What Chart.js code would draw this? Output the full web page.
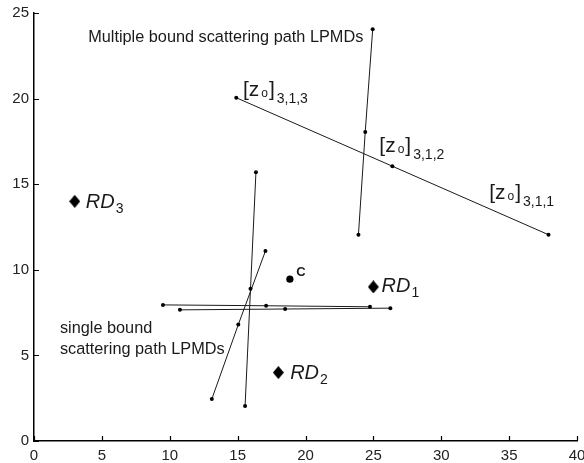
<!DOCTYPE html>
<html>
<head>
<meta charset="utf-8">
<script src="https://cdn.jsdelivr.net/npm/chart.js@4.4.1/dist/chart.umd.min.js"></script>
<style>
    html, body { margin: 0; padding: 0; background: #fff; }
    #wrap { width: 584px; height: 463px; }
</style>
</head>
<body>
<div id="wrap"><canvas id="lpmdChart"></canvas></div>
<script>
// Tick values on both axes
const xTickValues = [0, 5, 10, 15, 20, 25, 30, 35, 40];
const yTickValues = [0, 5, 10, 15, 20, 25];

// Single bound scattering path LPMDs (end, middle, end)
const singleX1 = [15.55, 15.95, 16.35];
const singleY1 = [2.05, 8.9, 15.7];
const singleX2 = [13.1, 15.05, 17.05];
const singleY2 = [2.45, 6.8, 11.1];
const singleX3 = [9.5, 17.1, 24.75];
const singleY3 = [7.95, 7.9, 7.84];
const singleX4 = [10.75, 18.5, 26.25];
const singleY4 = [7.66, 7.71, 7.76];

// Multiple bound scattering path LPMDs
const multiX1 = [23.9, 24.4, 24.95];
const multiY1 = [12.05, 18.05, 24.05];
const multiX2 = [14.9, 26.4, 37.9];
const multiY2 = [20.05, 16.05, 12.05];

// Reference devices and the centre point
const rdNames = ['1', '2', '3'];
const rdX = [25, 18, 3];
const rdY = [9, 4, 14];
const centreX = [18.85];
const centreY = [9.45];

const toPoints = (xs, ys) => xs.map((x, i) => ({ x: x, y: ys[i] }));

const FONT = '"Liberation Sans", Arial, Helvetica, sans-serif';

function makeDiamond(w, h) {
    const c = document.createElement('canvas');
    c.width = w;
    c.height = h;
    const g = c.getContext('2d');
    g.fillStyle = '#000';
    g.beginPath();
    g.moveTo(w / 2, 0);
    g.lineTo(w, h / 2);
    g.lineTo(w / 2, h);
    g.lineTo(0, h / 2);
    g.closePath();
    g.fill();
    return c;
}

function pathDataset(xs, ys) {
    return {
        data: toPoints(xs, ys),
        showLine: true,
        borderColor: '#1a1a1a',
        borderWidth: 1,
        pointRadius: 2,
        pointBorderWidth: 0,
        pointBackgroundColor: '#000'
    };
}

// Text labels: pieces drawn one after another on a shared baseline
const textLabels = [
    { x: 3.99, y: 23.31, pieces: [['Multiple bound scattering path LPMDs', '16.3px', 0]] },
    { x: 1.91, y: 6.31, pieces: [['single bound', '16.3px', 0]] },
    { x: 1.91, y: 5.08, pieces: [['scattering path LPMDs', '16.3px', 0]] },
    { x: 15.39, y: 20.18, pieces: [['[z', '21px', 0], ['o', '12px', 1, 2], [']', '21px', 0, 1], ['3,1,3', '14px', 7, 2]] },
    { x: 25.44, y: 16.88, pieces: [['[z', '21px', 0], ['o', '12px', 1, 2], [']', '21px', 0, 1], ['3,1,2', '14px', 7, 2]] },
    { x: 33.53, y: 14.12, pieces: [['[z', '21px', 0], ['o', '12px', 1, 2], [']', '21px', 0, 1], ['3,1,1', '14px', 7, 2]] },
    { x: 25.6, y: 8.72, pieces: [['RD', 'italic 20px', 0], [rdNames[0], '14px', 5, 1]] },
    { x: 18.87, y: 3.62, pieces: [['RD', 'italic 20px', 0], [rdNames[1], '14px', 5, 1]] },
    { x: 3.82, y: 13.63, pieces: [['RD', 'italic 20px', 0], [rdNames[2], '14px', 5, 1]] },
    { x: 19.32, y: 9.65, pieces: [['C', 'bold 13px', 0]] }
];

const annotationPlugin = {
    id: 'annotations',
    afterDraw(chart) {
        const { ctx, scales: { x, y }, chartArea } = chart;
        ctx.save();
        // inward tick marks
        ctx.strokeStyle = '#000';
        ctx.lineWidth = 1.2;
        ctx.beginPath();
        xTickValues.forEach(v => {
            const px = Math.round(x.getPixelForValue(v)) + 0.5;
            ctx.moveTo(px, chartArea.bottom);
            ctx.lineTo(px, chartArea.bottom - 5);
        });
        yTickValues.forEach(v => {
            const py = Math.round(y.getPixelForValue(v)) + 0.5;
            ctx.moveTo(chartArea.left, py);
            ctx.lineTo(chartArea.left + 5, py);
        });
        ctx.stroke();

        ctx.fillStyle = '#1a1a1a';
        ctx.textBaseline = 'alphabetic';
        ctx.textAlign = 'left';
        textLabels.forEach(lbl => {
            let px = x.getPixelForValue(lbl.x);
            const py = y.getPixelForValue(lbl.y);
            lbl.pieces.forEach(([text, font, dy, gap]) => {
                px += gap || 0;
                ctx.font = font + ' ' + FONT;
                ctx.fillText(text, px, py + dy);
                px += ctx.measureText(text).width;
            });
        });
        ctx.restore();
    }
};

const tickFont = { family: FONT, size: 15 };

new Chart(document.getElementById('lpmdChart').getContext('2d'), {
    type: 'scatter',
    data: {
        datasets: [
            pathDataset(singleX1, singleY1),
            pathDataset(singleX2, singleY2),
            pathDataset(singleX3, singleY3),
            pathDataset(singleX4, singleY4),
            pathDataset(multiX1, multiY1),
            pathDataset(multiX2, multiY2),
            {
                data: toPoints(rdX, rdY),
                pointStyle: makeDiamond(11, 13),
                pointRadius: 6
            },
            {
                data: toPoints(centreX, centreY),
                pointStyle: 'circle',
                pointRadius: 3.6,
                pointBorderWidth: 0,
                pointBackgroundColor: '#000'
            }
        ]
    },
    options: {
        responsive: true,
        maintainAspectRatio: false,
        animation: false,
        layout: { padding: { top: 13, right: 6, left: 0, bottom: 0 } },
        plugins: {
            legend: { display: false },
            tooltip: { enabled: false }
        },
        scales: {
            x: {
                type: 'linear',
                min: 0,
                max: 40,
                afterBuildTicks: s => { s.ticks = xTickValues.map(v => ({ value: v })); },
                afterFit: s => { s.paddingLeft = 0; s.paddingRight = 0; s.height = 22; },
                ticks: { font: tickFont, color: '#222', padding: 6, maxRotation: 0, autoSkip: false },
                grid: { display: false, drawTicks: false },
                border: { display: true, color: '#000', width: 1.5 }
            },
            y: {
                type: 'linear',
                min: 0,
                max: 25,
                afterBuildTicks: s => { s.ticks = yTickValues.map(v => ({ value: v })); },
                afterFit: s => { s.paddingTop = 0; s.paddingBottom = 0; s.width = 34; },
                ticks: { font: tickFont, color: '#222', padding: 5, autoSkip: false },
                grid: { display: false, drawTicks: false },
                border: { display: true, color: '#000', width: 1.5 }
            }
        }
    },
    plugins: [annotationPlugin]
});
</script>
</body>
</html>
